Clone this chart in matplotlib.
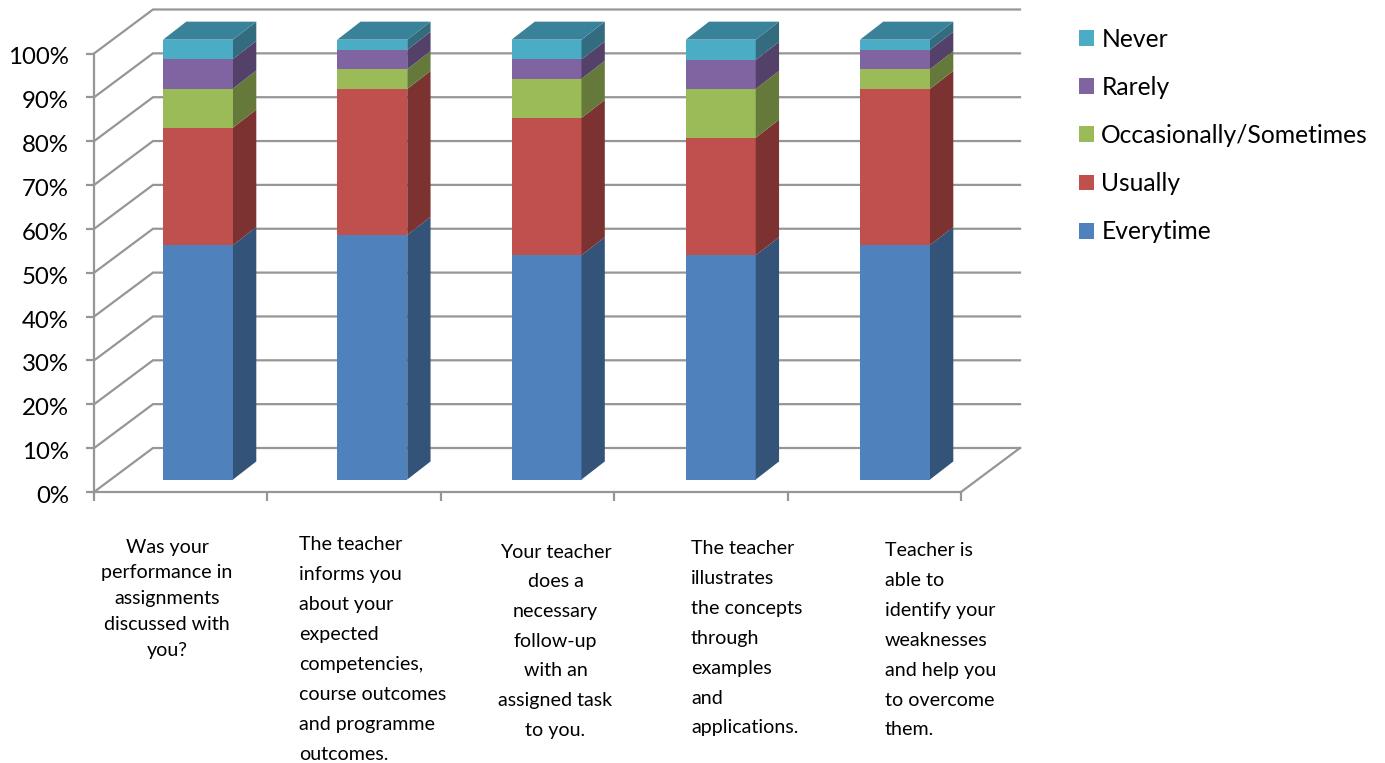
import matplotlib
matplotlib.use("Agg")
import matplotlib.pyplot as plt
from matplotlib.patches import Patch
from matplotlib.transforms import ScaledTranslation

plt.rcParams['font.family'] = ['Lato', 'DejaVu Sans']

series_names = ["Everytime", "Usually", "Occasionally/Sometimes", "Rarely", "Never"]
everytime = [53.3, 55.6, 51.0, 51.0, 53.3]
usually = [26.7, 33.2, 31.2, 26.7, 35.5]
occasionally = [8.9, 4.5, 8.9, 11.1, 4.5]
rarely = [6.7, 4.4, 4.4, 6.6, 4.4]
never = [4.4, 2.3, 4.5, 4.6, 2.3]
all_values = [everytime, usually, occasionally, rarely, never]

front_colors = ["#4F81BD", "#C0504D", "#9BBB59", "#8064A2", "#4BACC6"]
side_colors = ["#335378", "#7C3230", "#64793A", "#534169", "#346C7F"]
top_color = "#3A8299"
grid_color = "#969696"

category_lines = [
    ["Was your", "performance in", "assignments", "discussed with", "you?"],
    ["The teacher", "informs you", "about your", "expected", "competencies,",
     "course outcomes", "and programme", "outcomes."],
    ["Your teacher", "does a", "necessary", "follow-up", "with an", "assigned task", "to you."],
    ["The teacher", "illustrates", "the concepts", "through", "examples", "and", "applications."],
    ["Teacher is", "able to", "identify your", "weaknesses", "and help you", "to overcome", "them."],
]
# layout of the category text blocks, in pixels: x, first-line y, pitch, alignment
label_layout = [
    (167, 547, 25.9, "center"),
    (299, 545, 29.9, "left"),
    (555.5, 552, 29.7, "center"),
    (691, 549, 29.8, "left"),
    (885, 551, 29.8, "left"),
]

W, H = 1385, 763
fig = plt.figure(figsize=(W / 100, H / 100), dpi=100)
x0, x1, y0, y1 = 94, 961, 492, 53.5
ax = fig.add_axes([x0 / W, 1 - y0 / H, (x1 - x0) / W, (y0 - y1) / H])
ax.set_xlim(0, 5)
ax.set_ylim(0, 100)
ax.patch.set_visible(False)

cat_px = (x1 - x0) / 5
pct_px = (y0 - y1) / 100
DX = 59 / cat_px   # wall depth in category units
DY = 44 / pct_px   # wall depth in percent units

# walls' gridlines
for t in range(0, 101, 10):
    ax.plot([0, DX, 5 + DX], [t, t + DY, t + DY], color=grid_color, lw=1.6,
            clip_on=False, zorder=1, solid_joinstyle="miter")
ax.plot([5, 5 + DX], [0, DY], color=grid_color, lw=1.6, clip_on=False, zorder=1)

# bars
BAR_W = 70 / cat_px
BAR_PITCH = 174.25 / cat_px
BAR_START = (163 - x0) / cat_px
BAR_SCALE = 1.003    # bars stand nearer than the axis plane, so they draw slightly larger
FRONT = 0.284        # fraction of depth before bar
DEPTH_X = 0.395      # fraction of depth occupied by bar, horizontally
DEPTH_Y = 0.41       # same, vertically
for i in range(5):
    left = BAR_START + i * BAR_PITCH
    fy = FRONT * DY
    bottom = 0.0
    dx, dy = DEPTH_X * DX, DEPTH_Y * DY
    right = left + BAR_W
    for vals, fc, sc in zip(all_values, front_colors, side_colors):
        v = vals[i] * BAR_SCALE
        ax.bar(left, v, width=BAR_W, bottom=bottom + fy, align="edge", color=fc,
               clip_on=False, zorder=3)
        ax.fill([right, right + dx, right + dx, right],
                [bottom + fy, bottom + fy + dy, bottom + v + fy + dy, bottom + v + fy],
                color=sc, lw=0, clip_on=False, zorder=3)
        bottom += v
    ax.fill([left, left + dx, right + dx, right],
            [bottom + fy, bottom + fy + dy, bottom + fy + dy, bottom + fy],
            color=top_color, lw=0, clip_on=False, zorder=3)

# axes
for s in ("top", "right"):
    ax.spines[s].set_visible(False)
for s in ("left", "bottom"):
    ax.spines[s].set_color(grid_color)
    ax.spines[s].set_linewidth(1.6)
ax.set_yticks(range(0, 101, 10))
ax.set_yticklabels([f"{t}%" for t in range(0, 101, 10)])
ax.set_xticks(range(6))
ax.set_xticklabels([])
ax.tick_params(axis="y", length=5.5, width=1.6, color=grid_color, pad=12.5,
               labelsize=17.3, labelcolor="black")
ax.tick_params(axis="x", length=6.5, width=1.6, color=grid_color)
shift = ScaledTranslation(0, -2.5 / 100, fig.dpi_scale_trans)
for lab in ax.get_yticklabels():
    lab.set_transform(lab.get_transform() + shift)

# category labels
for lines, (lx, ly, pitch, ha) in zip(category_lines, label_layout):
    for k, line in enumerate(lines):
        fig.text(lx / W, 1 - (ly + k * pitch) / H, line, ha=ha, va="center",
                 fontsize=14.1, color="black")

# legend
handles = [Patch(facecolor=c, edgecolor="none") for c in front_colors[::-1]]
fig.legend(handles, series_names[::-1], loc="upper left",
           bbox_to_anchor=(1074 / W, 1 - 23 / H), frameon=False, fontsize=17.7,
           handlelength=0.62, handleheight=0.62, handletextpad=0.29,
           labelspacing=1.02, borderpad=0.2, borderaxespad=0)

fig.savefig("out.png", dpi=100)
